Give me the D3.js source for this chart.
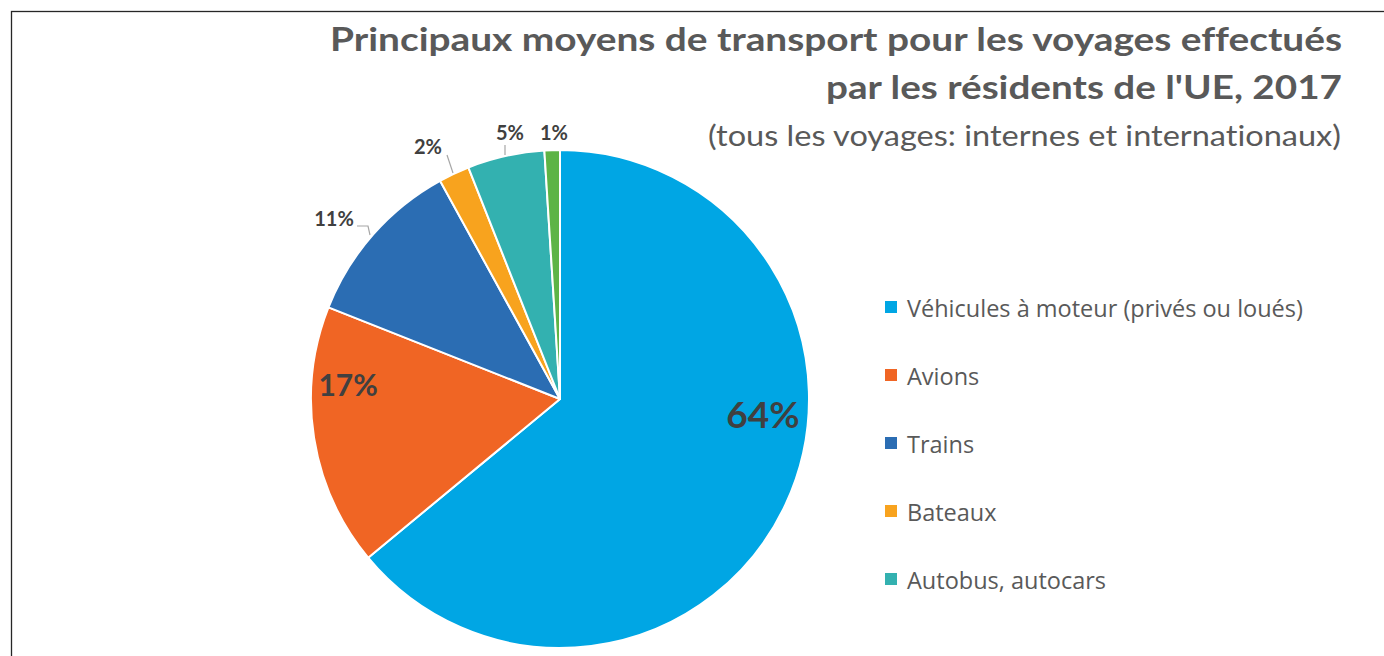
<!DOCTYPE html>
<html>
<head>
<meta charset="utf-8">
<script src="https://cdn.jsdelivr.net/npm/d3@7/dist/d3.min.js"></script>
<style>
  html, body { margin: 0; padding: 0; background: #fff; }
  svg { display: block; font-family: Lato, "Open Sans", sans-serif; font-variant-ligatures: none; }
</style>
</head>
<body>
<svg id="chart" width="1384" height="656"></svg>
<script>
// Camembert : principaux moyens de transport des résidents de l'UE, 2017.

const categories = [
  "Véhicules à moteur (privés ou loués)",
  "Avions",
  "Trains",
  "Bateaux",
  "Autobus, autocars",
  "Autres",
];
const shares = [64, 17, 11, 2, 5, 1];
const colors = ["#00a6e4", "#f06524", "#2b6db3", "#f8a31e", "#33b1b0", "#5db446"];
const legendItems = categories.slice(0, 5); // la dernière entrée est coupée hors cadre

const titleLines = [
  "Principaux moyens de transport pour les voyages effectués",
  "par les résidents de l'UE, 2017",
];
const subtitle = "(tous les voyages: internes et internationaux)";

const svg = d3.select("#chart");
const cx = 560;
const cy = 399;
const radius = 249;

// cadre du graphique (seuls les bords haut et gauche sont visibles)
svg.append("rect")
  .attr("x", 11.5).attr("y", 11.5)
  .attr("width", 1400).attr("height", 700)
  .attr("fill", "none")
  .attr("stroke", "#262626")
  .attr("stroke-width", 1.3);

// titre
const titleG = svg.append("g").attr("fill", "#595959");
const titleBaselines = [51, 99];
const titleWidths = [1012, 516];
titleLines.forEach((line, i) => {
  titleG.append("text")
    .attr("x", 1342)
    .attr("y", titleBaselines[i])
    .attr("text-anchor", "end")
    .attr("font-size", 32)
    .attr("font-weight", 700)
    .attr("textLength", titleWidths[i])
    .attr("lengthAdjust", "spacingAndGlyphs")
    .text(line);
});
titleG.append("text")
  .attr("x", 1341)
  .attr("y", 146)
  .attr("text-anchor", "end")
  .attr("font-size", 29)
  .attr("textLength", 633)
  .attr("lengthAdjust", "spacingAndGlyphs")
  .text(subtitle);

// secteurs
const data = categories.map((name, i) => ({ name, value: shares[i], color: colors[i] }));
const pie = d3.pie().sort(null).value((d) => d.value);
const arcs = pie(data);
const arc = d3.arc().innerRadius(0).outerRadius(radius);

const pieG = svg.append("g").attr("transform", `translate(${cx},${cy})`);
pieG.selectAll("path.slice")
  .data(arcs)
  .join("path")
  .attr("class", "slice")
  .attr("d", arc)
  .attr("fill", (d) => d.data.color)
  .attr("stroke", "#fff")
  .attr("stroke-width", 2)
  .attr("stroke-linejoin", "round");

// étiquettes : angle (degrés, sens horaire depuis midi) et rayon relatif
const labelPlacement = [
  { angle: 94, r: 0.817, size: 37 },
  { angle: 274, r: 0.853, size: 30 },
  { size: 20, pos: [-226, -181], lead: [[-203, -173], [-192, -173], [-190, -164]] },
  { size: 20, pos: [-132, -253], lead: [[-113, -244], [-107, -226]] },
  { size: 20, pos: [-50, -267], lead: [[-55, -254], [-55, -244]] },
  { size: 20, pos: [-6, -267] },
];
const toXY = (deg, r) => {
  const a = (deg * Math.PI) / 180;
  return [Math.sin(a) * r * radius, -Math.cos(a) * r * radius];
};

const labelG = pieG.append("g");
labelPlacement.forEach((p) => {
  if (!p.lead) return;
  labelG.append("path")
    .attr("d", d3.line()(p.lead))
    .attr("fill", "none")
    .attr("stroke", "#a6a6a6")
    .attr("stroke-width", 1.2);
});

arcs.forEach((d, i) => {
  const p = labelPlacement[i];
  const [x, y] = p.pos || toXY(p.angle, p.r);
  labelG.append("text")
    .attr("x", x)
    .attr("y", y)
    .attr("text-anchor", "middle")
    .attr("dominant-baseline", "central")
    .attr("font-size", p.size)
    .attr("font-weight", 700)
    .attr("fill", "#404040")
    .text(`${d.data.value}%`);
});

// légende
const legendY = d3.scalePoint()
  .domain(legendItems)
  .range([307, 579]);

const legend = svg.append("g")
  .selectAll("g")
  .data(legendItems)
  .join("g")
  .attr("transform", (d) => `translate(885,${legendY(d)})`);

legend.append("rect")
  .attr("x", 0).attr("y", -6)
  .attr("width", 12).attr("height", 12)
  .attr("fill", (d, i) => colors[i]);

legend.append("text")
  .attr("x", 22)
  .attr("y", 1)
  .attr("dominant-baseline", "central")
  .attr("font-family", "'Open Sans', sans-serif")
  .attr("font-size", 23.5)
  .attr("fill", "#595959")
  .text((d) => d);
</script>
</body>
</html>
